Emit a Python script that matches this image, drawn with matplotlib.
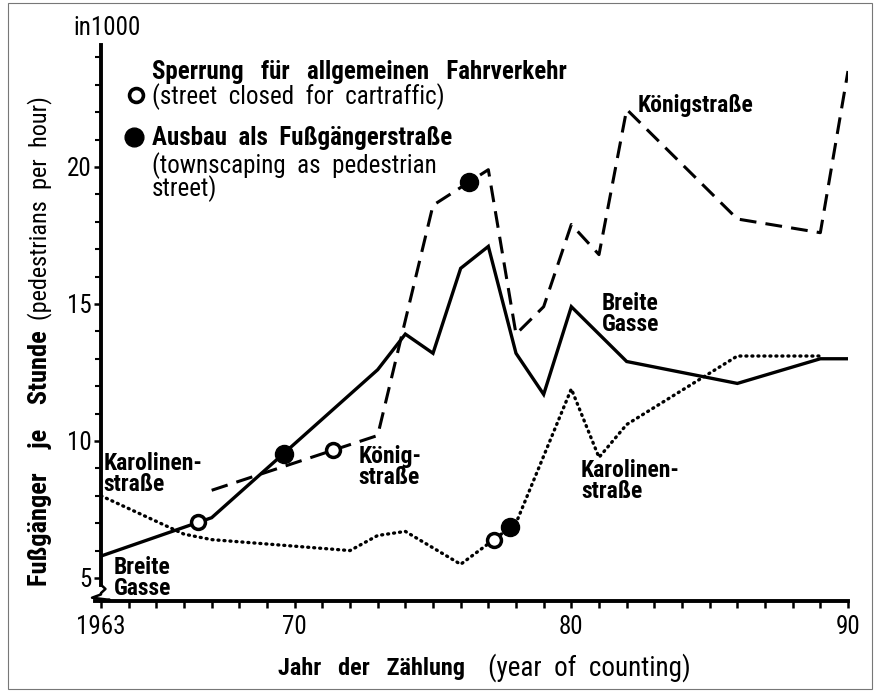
import numpy as np
import matplotlib
matplotlib.use('Agg')
import matplotlib.pyplot as plt
import matplotlib.font_manager as fm
from matplotlib.patches import Rectangle

# Daten (Fußgänger je Stunde, in 1000)
breite_jahre = [1963, 1967, 1973, 1974, 1975, 1976, 1977, 1978, 1979, 1980, 1982, 1986, 1989, 1990]
breite_werte = [5.8, 7.2, 12.6, 13.9, 13.2, 16.3, 17.1, 13.2, 11.7, 14.9, 12.9, 12.1, 13.0, 13.0]

koenig_jahre = [1967, 1973, 1975, 1977, 1978, 1979, 1980, 1981, 1982, 1986, 1989, 1990]
koenig_werte = [8.2, 10.2, 18.6, 19.9, 13.9, 14.9, 17.9, 16.8, 22.1, 18.1, 17.6, 23.5]

karol_jahre = [1963, 1966, 1967, 1972, 1973, 1974, 1976, 1978, 1980, 1981, 1982, 1986, 1989]
karol_werte = [8.0, 6.6, 6.4, 6.0, 6.55, 6.7, 5.5, 7.0, 11.9, 9.4, 10.6, 13.1, 13.1]

# Sperrung (offen) / Ausbau (gefüllt)
breite_sperrung, breite_ausbau = 1966.5, 1969.6
koenig_sperrung, koenig_ausbau = 1971.4, 1976.3
karol_sperrung, karol_ausbau = 1977.2, 1977.8

x_ticks = [1963, 1970, 1980, 1990]
x_ticklabels = ['1963', '70', '80', '90']
y_ticks = [5, 10, 15, 20]

# Schrift
namen = {f.name for f in fm.fontManager.ttflist}
schrift = 'DejaVu Sans'
for kandidat in ['Liberation Sans Narrow', 'Roboto Condensed', 'Open Sans Condensed']:
    if kandidat in namen:
        schrift = kandidat
        break
plt.rcParams['font.family'] = [schrift, 'DejaVu Sans']

fig = plt.figure(figsize=(8.78, 6.93), dpi=100)
ax = fig.add_axes([101/878, 92/693, 747/878, 556/693])
ax.set_xlim(1963, 1990)
ax.set_ylim(4.16, 24.45)

# Linien
ax.plot(breite_jahre, breite_werte, color='black', lw=2.4, solid_joinstyle='miter')
ax.plot(koenig_jahre, koenig_werte, color='black', lw=2.2, linestyle=(0, (5.5, 3)))
ax.plot(karol_jahre, karol_werte, color='black', lw=2.4, linestyle=(0, (0.3, 1.5)),
        dash_capstyle='round')

# Ereignisse
offen_x = [breite_sperrung, koenig_sperrung, karol_sperrung]
offen_y = [np.interp(breite_sperrung, breite_jahre, breite_werte),
           np.interp(koenig_sperrung, koenig_jahre, koenig_werte),
           np.interp(karol_sperrung, karol_jahre, karol_werte)]
voll_x = [breite_ausbau, koenig_ausbau, karol_ausbau]
voll_y = [np.interp(breite_ausbau, breite_jahre, breite_werte),
          np.interp(koenig_ausbau, koenig_jahre, koenig_werte),
          np.interp(karol_ausbau, karol_jahre, karol_werte)]
ax.plot(voll_x, voll_y, 'o', ms=13, mfc='black', mec='black', zorder=5)
ax.plot(offen_x, offen_y, 'o', ms=10, mfc='white', mec='black', mew=2.5, zorder=6)

# Achsen
for s in ['top', 'right']:
    ax.spines[s].set_visible(False)
ax.spines['left'].set_linewidth(2.8)
ax.spines['bottom'].set_linewidth(2.8)
ax.spines['left'].set_bounds(4.75, 24.45)
ax.set_xticks(x_ticks)
ax.set_xticklabels(x_ticklabels)
ax.set_xticks(range(1963, 1991), minor=True)
ax.set_yticks(y_ticks)
ax.set_yticks(range(5, 25), minor=True)
ax.tick_params(axis='x', which='both', direction='out', length=5, width=1.8, labelsize=18, pad=5)
ax.tick_params(axis='y', which='major', direction='out', length=5, width=1.8, labelsize=18, pad=2)
ax.tick_params(axis='y', which='minor', direction='out', length=4, width=1.5)

# Achsenbruch
trans = ax.get_yaxis_transform()
ax.plot([0, 0.006, 0, 0, -0.012, 0.012, 0, 0],
        [4.75, 4.6, 4.45, 4.4, 4.28, 4.2, 4.16, 4.16],
        color='black', lw=1.8, transform=trans, clip_on=False)
ax.plot([-0.008, 0], [4.16, 4.16], color='black', lw=2.8, transform=trans, clip_on=False)

# Beschriftungen im Diagramm
fett = dict(fontsize=17, fontweight='bold', linespacing=0.9, va='top')
ax.text(1963.1, 9.6, 'Karolinen-\nstraße', **fett)
ax.text(1963.45, 5.8, 'Breite\nGasse', **fett)
ax.text(1972.3, 9.85, 'König-\nstraße', **fett)
ax.text(1980.35, 9.35, 'Karolinen-\nstraße', **fett)
ax.text(1981.1, 15.45, 'Breite\nGasse', **fett)
ax.text(1982.4, 22.65, 'Königstraße', **fett)

# Legende
ax.plot([1964.25], [22.63], 'o', ms=10, mfc='white', mec='black', mew=2.6, clip_on=False)
ax.plot([1964.2], [21.1], 'o', ms=13.5, mfc='black', mec='black', clip_on=False)
fig.text(152/878, 1 - 72/693, 'Sperrung   für   allgemeinen   Fahrverkehr', fontsize=18,
         fontweight='bold', va='center')
fig.text(152/878, 1 - 97/693, '(street  closed  for  cartraffic)', fontsize=18, va='center')
fig.text(152/878, 1 - 138/693, 'Ausbau  als  Fußgängerstraße', fontsize=18,
         fontweight='bold', va='center')
fig.text(152/878, 1 - 152/693, '(townscaping  as  pedestrian\nstreet)', fontsize=18,
         va='top', linespacing=0.8)

fig.text(107/878, 1 - 28/693, 'in1000', fontsize=18, ha='center', va='center')

# Achsentitel
fig.text(40/878, 1 - 586/693, 'Fußgänger    je    Stunde', fontsize=19, fontweight='bold',
         rotation=90, ha='center', va='bottom')
fig.text(40/878, 1 - 320/693, '(pedestrians  per  hour)', fontsize=17.5,
         rotation=90, ha='center', va='bottom')
fig.text(278/878, 1 - 668/693, 'Jahr   der   Zählung', fontsize=17.5, fontweight='bold',
         va='center')
fig.text(488/878, 1 - 668/693, '(year  of  counting)', fontsize=19.5, va='center')

# Rahmen
fig.patches.append(Rectangle((8/878, 4/693), 864/878, 686/693, transform=fig.transFigure,
                             fill=False, edgecolor='#777777', lw=0.8))

fig.savefig('out.png', dpi=100)
